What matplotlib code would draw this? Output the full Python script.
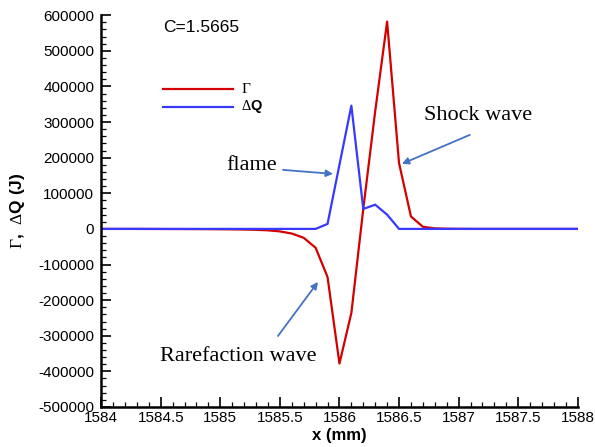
import matplotlib
matplotlib.use("Agg")
import matplotlib.pyplot as plt
from matplotlib.ticker import MultipleLocator

# data (0.1 mm grid)
x_mm = [1584.0, 1584.1, 1584.2, 1584.3, 1584.4, 1584.5, 1584.6, 1584.7, 1584.8, 1584.9,
        1585.0, 1585.1, 1585.2, 1585.3, 1585.4, 1585.5, 1585.6, 1585.7, 1585.8, 1585.9,
        1586.0, 1586.1, 1586.2, 1586.3, 1586.4, 1586.5, 1586.6, 1586.7, 1586.8, 1586.9,
        1587.0, 1587.1, 1587.2, 1587.3, 1587.4, 1587.5, 1587.6, 1587.7, 1587.8, 1587.9,
        1588.0]
gamma = [0, 0, 0, -100, -200, -300, -400, -500, -600, -800,
         -1000, -1300, -1800, -2500, -4000, -7000, -13000, -25000, -53000, -135000,
         -378000, -236000, 56000, 330000, 582000, 185000, 35000, 6000, 1500, 500,
         200, 0, 0, 0, 0, 0, 0, 0, 0, 0,
         0]
dQ = [0, 0, 0, 0, 0, 0, 0, 0, 0, 0,
      0, 0, 0, 0, 0, 0, 0, 0, 0, 14000,
      180000, 346000, 56000, 68000, 40000, 0, 0, 0, 0, 0,
      0, 0, 0, 0, 0, 0, 0, 0, 0, 0,
      0]

x_ticks = [1584, 1584.5, 1585, 1585.5, 1586, 1586.5, 1587, 1587.5, 1588]
y_ticks = [-500000, -400000, -300000, -200000, -100000, 0,
           100000, 200000, 300000, 400000, 500000, 600000]

plt.rcParams['font.family'] = ['Liberation Sans', 'DejaVu Sans']
plt.rcParams['mathtext.fontset'] = 'custom'
plt.rcParams['mathtext.rm'] = 'Liberation Serif'
plt.rcParams['mathtext.it'] = 'Liberation Serif:italic'
plt.rcParams['mathtext.bf'] = 'Liberation Serif:bold'

fig = plt.figure(figsize=(5.95, 4.47), dpi=100)
ax = fig.add_axes([0.170, 0.0895, 0.801, 0.8765])

red = '#d40000'
blue = '#3838ff'
ax.plot(x_mm, gamma, color=red, lw=1.6)
ax.plot(x_mm, dQ, color=blue, lw=1.6)

ax.set_xlim(1584, 1588)
ax.set_ylim(-500000, 600000)
ax.set_xticks(x_ticks)
ax.set_xticklabels([f'{t:g}' for t in x_ticks])
ax.set_yticks(y_ticks)
ax.set_yticklabels([f'{t:d}' for t in y_ticks])
ax.xaxis.set_minor_locator(MultipleLocator(0.1))
ax.yaxis.set_minor_locator(MultipleLocator(20000))

for s in ['top', 'right']:
    ax.spines[s].set_visible(False)
for s in ['left', 'bottom']:
    ax.spines[s].set_linewidth(1.8)
ax.tick_params(which='major', direction='in', length=7, width=1.2, labelsize=11)
ax.tick_params(axis='y', which='major', pad=5)
ax.tick_params(axis='x', which='major', pad=3)
ax.tick_params(which='minor', direction='in', length=3.5, width=0.9)

ax.set_xlabel('x (mm)', fontsize=12, fontweight='bold', labelpad=2)
ax.set_ylabel(r'$\Gamma$,  $\Delta$Q (J)', fontsize=12.5, fontweight='bold', labelpad=8)

# legend drawn by hand to match the reference placement
ax.plot([1584.52, 1585.107], [393000, 393000], color=red, lw=1.6)
ax.plot([1584.52, 1585.107], [343000, 343000], color=blue, lw=1.6)
ax.text(1585.17, 393000, r'$\Gamma$', fontsize=11, va='center')
ax.text(1585.17, 343000, r'$\Delta$Q', fontsize=10.5, fontweight='bold', va='center')

ax.text(1584.52, 566000, 'C=1.5665', fontsize=12.5, va='center')

serif = ['Liberation Serif', 'DejaVu Serif']
arrow = dict(arrowstyle='-|>', color='#4472c4', lw=1.3, mutation_scale=10,
             shrinkA=0, shrinkB=0)
ax.text(1587.161, 317000, 'Shock wave', fontsize=16, family=serif, ha='center', va='center')
ax.text(1585.266, 177000, 'flame', fontsize=16, family=serif, ha='center', va='center')
ax.text(1585.149, -357000, 'Rarefaction wave', fontsize=16, family=serif,
        ha='center', va='center')
ax.annotate('', xy=(1586.524, 182600), xytext=(1587.094, 264000), arrowprops=arrow)
ax.annotate('', xy=(1585.946, 154500), xytext=(1585.526, 165700), arrowprops=arrow)
ax.annotate('', xy=(1585.820, -148900), xytext=(1585.484, -300600), arrowprops=arrow)

fig.savefig('out.png', dpi=100)
